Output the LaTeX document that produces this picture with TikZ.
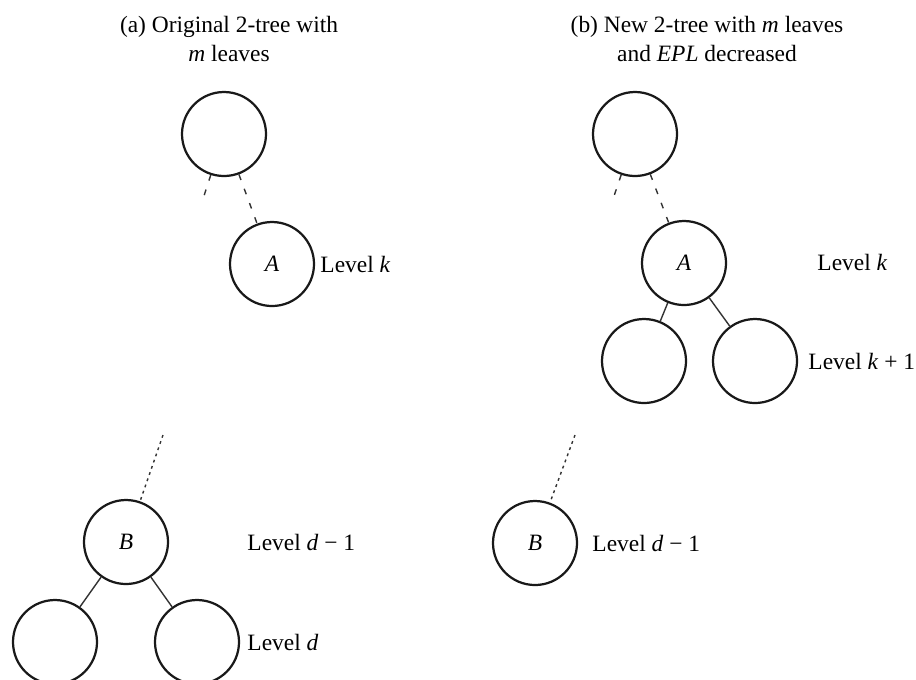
\documentclass[tikz,border=0pt]{standalone}
\usepackage{fontspec}
\setmainfont{Liberation Serif}
\usetikzlibrary{positioning}

\begin{document}
\begin{tikzpicture}[
  x=0.015cm, y=-0.015cm,
  every node/.style={font=\normalsize},
  tnode/.style={circle, draw=black!90, line width=0.95pt, minimum size=1.26cm, inner sep=0pt},
  link/.style={draw=black!80, line width=0.6pt},
  gaplink/.style={link, dash pattern=on 2.5pt off 4pt},
  deeplink/.style={link, dash pattern=on 1.2pt off 1.6pt},
  lvl/.style={anchor=west, inner sep=0pt},
  titlebox/.style={align=center, inner sep=0pt}
]
\useasboundingbox (0,0) rectangle (916,679);
\clip (0,0) rectangle (916,679);

% =================== (a) original 2-tree ===================
\node[titlebox] (titleA) at (229,39) {(a) Original 2-tree with\\ \textit{m} leaves};

\node[tnode] (rootA) at (224,134) {};
\node[tnode] (nodeA) at (272,264) {\textit{A}};
\coordinate (stubA) at (202,202);
\node[lvl] (lvlkA) at (320,264) {Level \textit{k}};

\coordinate (upB) at (163,435);
\node[tnode] (nodeB) at (126,542) {\textit{B}};
\node[tnode] (leafL) at (55,642) {};
\node[tnode] (leafR) at (197,642) {};
\node[lvl] (lvldmA) at (247,542) {Level \textit{d} − 1};
\node[lvl] (lvldA) at (247,642) {Level \textit{d}};

\draw[gaplink] (rootA) -- (stubA);
\draw[gaplink] (rootA) -- (nodeA);
\draw[deeplink] (upB) -- (nodeB);
\draw[link] (nodeB) -- (leafL);
\draw[link] (nodeB) -- (leafR);

% =================== (b) new 2-tree ===================
\node[titlebox] (titleB) at (707,39) {(b) New 2-tree with \textit{m} leaves\\ and \textit{EPL} decreased};

\node[tnode] (rootN) at (635,134) {};
\node[tnode] (nodeAN) at (684,263) {\textit{A}};
\coordinate (stubN) at (612,202);
\node[tnode] (kidL) at (644,361) {};
\node[tnode] (kidR) at (755,361) {};
\node[lvl] (lvlkN) at (817,262) {Level \textit{k}};
\node[lvl] (lvlkpN) at (808,361) {Level \textit{k} + 1};

\coordinate (upBN) at (575,435);
\node[tnode] (nodeBN) at (535,543) {\textit{B}};
\node[lvl] (lvldmN) at (592,543) {Level \textit{d} − 1};

\draw[gaplink] (rootN) -- (stubN);
\draw[gaplink] (rootN) -- (nodeAN);
\draw[link] (nodeAN) -- (kidL);
\draw[link] (nodeAN) -- (kidR);
\draw[deeplink] (upBN) -- (nodeBN);

\end{tikzpicture}
\end{document}
